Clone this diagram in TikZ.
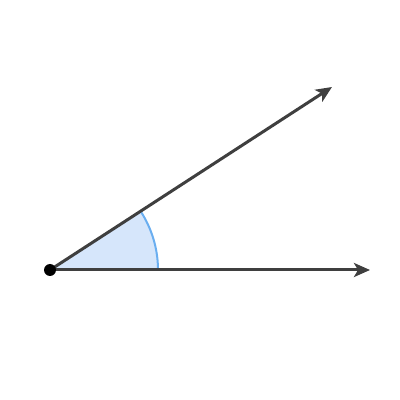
\documentclass[tikz,border=0pt]{standalone}
\usetikzlibrary{arrows.meta}
\definecolor{raygray}{HTML}{3F3F3F}
\definecolor{anglefill}{HTML}{D6E6FB}
\definecolor{anglearc}{HTML}{6AAEF0}
\begin{document}
\begin{tikzpicture}[x=1pt,y=1pt,
  ray/.style={draw=raygray,line width=3pt,-{Stealth[length=16pt,width=14pt,inset=4pt]}},
  vertexdot/.style={circle,fill=black,inner sep=0pt,minimum size=12pt}]
\useasboundingbox (0,0) rectangle (400,400);
\coordinate (O) at (50,130);
\coordinate (A) at (370,130);
\coordinate (B) at (332,313);
\coordinate (R) at (158,130);
\fill[anglefill] (O) -- (R) arc[start angle=0,end angle=33,radius=108] -- cycle;
\draw[anglearc,line width=2pt] (R) arc[start angle=0,end angle=33,radius=108];
\draw[ray] (O) -- (A);
\draw[ray] (O) -- (B);
\node[vertexdot] (V) at (O) {};
\end{tikzpicture}
\end{document}
